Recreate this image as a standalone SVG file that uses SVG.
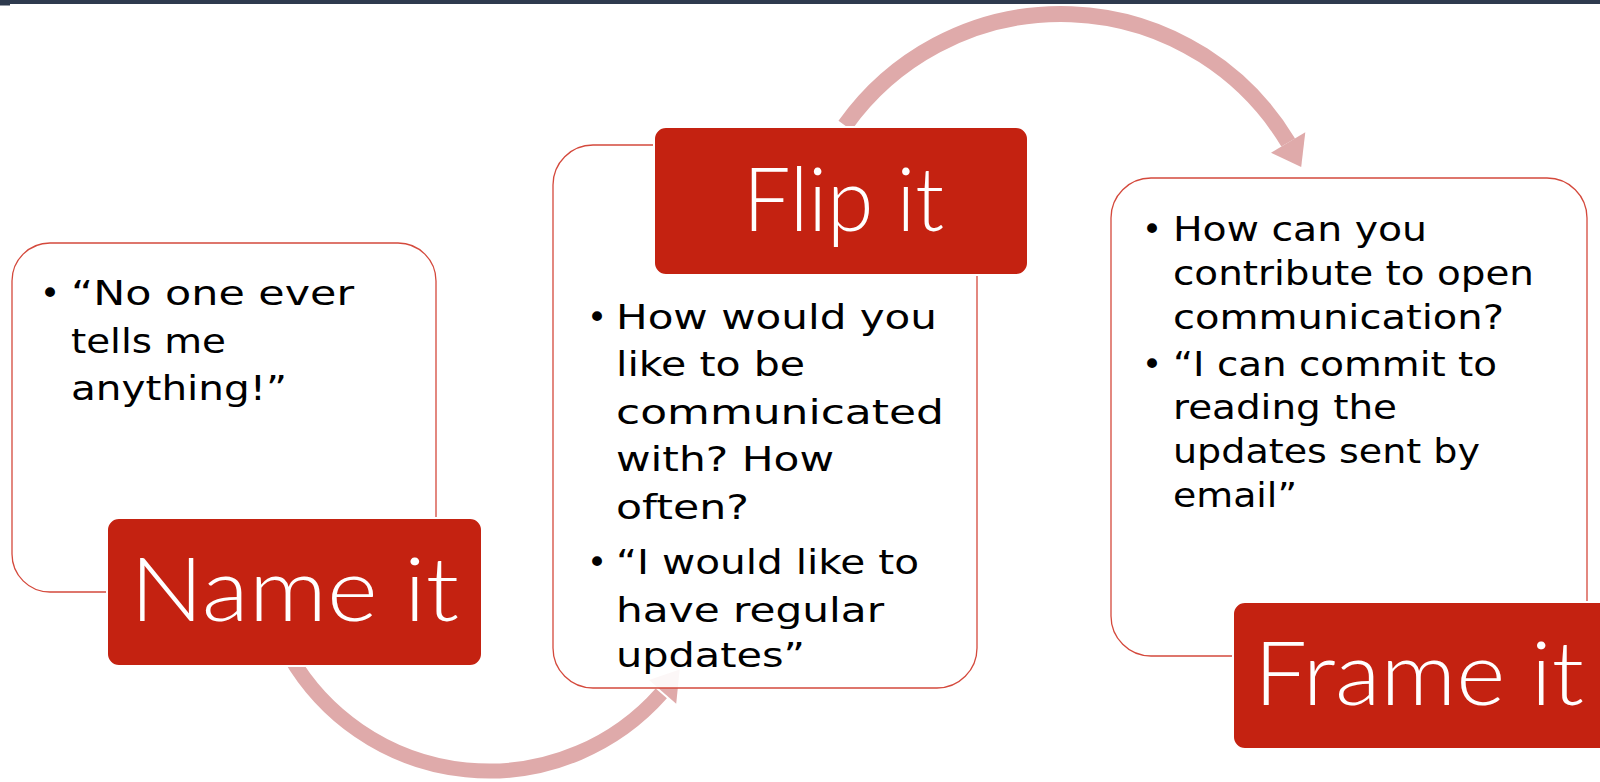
<svg xmlns="http://www.w3.org/2000/svg" width="1600" height="782" viewBox="0 0 1600 782">
  <style>
    .box { fill: #ffffff; fill-opacity: 0.9; stroke: #d4493c; stroke-width: 1.3; }
    .tag { fill: #c42211; stroke: #ffffff; stroke-width: 2; }
    .tagtext { font-family: Lato, "DejaVu Sans", sans-serif; font-weight: 300; font-size: 88px; fill: #ffffff; }
    .body { font-family: "DejaVu Sans", sans-serif; font-size: 34px; fill: #000000; }
    .bullet { font-family: "DejaVu Sans", sans-serif; font-size: 34px; fill: #000000; text-anchor: middle; }
    .arc { fill: none; stroke: #dfaaaa; }
    .head { fill: #dfaaaa; }
  </style>

  <rect width="1600" height="782" fill="#ffffff"/>
  <!-- window bar -->
  <rect x="0" y="0" width="1600" height="4" fill="#2e3a4e"/>
  <rect x="0" y="4" width="10" height="1.5" fill="#2e3a4e"/>

  <!-- curved arrows between the steps -->
  <g id="connectors">
    <path class="arc" stroke-width="15" d="M 289.8 656 A 230 230 0 0 0 661.3 693.4"/>
    <polygon class="head" points="649,680.1 676.2,703.7 679.7,669.6"/>
    <path class="arc" stroke-width="16" d="M 845 125.5 A 265 265 0 0 1 1288.2 142.5"/>
    <polygon class="head" points="1271,152.8 1305.3,132.2 1301.2,167"/>
  </g>

  <!-- step 1 -->
  <g id="name-it">
    <rect class="box" x="12" y="243" width="424" height="349" rx="38"/>
    <text class="bullet" x="50" y="305">•</text>
    <text class="body" x="71" y="305" textLength="283" lengthAdjust="spacingAndGlyphs">“No one ever</text>
    <text class="body" x="71" y="353" textLength="155" lengthAdjust="spacingAndGlyphs">tells me</text>
    <text class="body" x="71" y="400" textLength="216" lengthAdjust="spacingAndGlyphs">anything!”</text>
    <rect class="tag" x="107" y="518" width="375" height="148" rx="12"/>
    <text class="tagtext" x="130" y="621" textLength="329" lengthAdjust="spacingAndGlyphs">Name it</text>
  </g>

  <!-- step 2 -->
  <g id="flip-it">
    <rect class="box" x="553" y="145" width="424" height="543" rx="40"/>
    <text class="bullet" x="597" y="328.5">•</text>
    <text class="body" x="616" y="328.5" textLength="321" lengthAdjust="spacingAndGlyphs">How would you</text>
    <text class="body" x="616" y="376" textLength="189" lengthAdjust="spacingAndGlyphs">like to be</text>
    <text class="body" x="616" y="423.5" textLength="328" lengthAdjust="spacingAndGlyphs">communicated</text>
    <text class="body" x="616" y="471" textLength="218" lengthAdjust="spacingAndGlyphs">with? How</text>
    <text class="body" x="616" y="519" textLength="133" lengthAdjust="spacingAndGlyphs">often?</text>
    <text class="bullet" x="597" y="574">•</text>
    <text class="body" x="616" y="574" textLength="303" lengthAdjust="spacingAndGlyphs">“I would like to</text>
    <text class="body" x="616" y="621.5" textLength="268" lengthAdjust="spacingAndGlyphs">have regular</text>
    <text class="body" x="616" y="667" textLength="189" lengthAdjust="spacingAndGlyphs">updates”</text>
    <rect class="tag" x="654" y="127" width="374" height="148" rx="12"/>
    <text class="tagtext" x="743" y="231" textLength="201" lengthAdjust="spacingAndGlyphs">Flip it</text>
  </g>

  <!-- step 3 -->
  <g id="frame-it">
    <rect class="box" x="1111" y="178" width="476" height="478" rx="40"/>
    <text class="bullet" x="1152" y="241">•</text>
    <text class="body" x="1173" y="241" textLength="254" lengthAdjust="spacingAndGlyphs">How can you</text>
    <text class="body" x="1173" y="285" textLength="361" lengthAdjust="spacingAndGlyphs">contribute to open</text>
    <text class="body" x="1173" y="329" textLength="331" lengthAdjust="spacingAndGlyphs">communication?</text>
    <text class="bullet" x="1152" y="376">•</text>
    <text class="body" x="1173" y="376" textLength="324" lengthAdjust="spacingAndGlyphs">“I can commit to</text>
    <text class="body" x="1173" y="419" textLength="224" lengthAdjust="spacingAndGlyphs">reading the</text>
    <text class="body" x="1173" y="463" textLength="307" lengthAdjust="spacingAndGlyphs">updates sent by</text>
    <text class="body" x="1173" y="507" textLength="124" lengthAdjust="spacingAndGlyphs">email”</text>
    <rect class="tag" x="1233" y="602" width="380" height="147" rx="12"/>
    <text class="tagtext" x="1254" y="705" textLength="330" lengthAdjust="spacingAndGlyphs">Frame it</text>
  </g>
</svg>
